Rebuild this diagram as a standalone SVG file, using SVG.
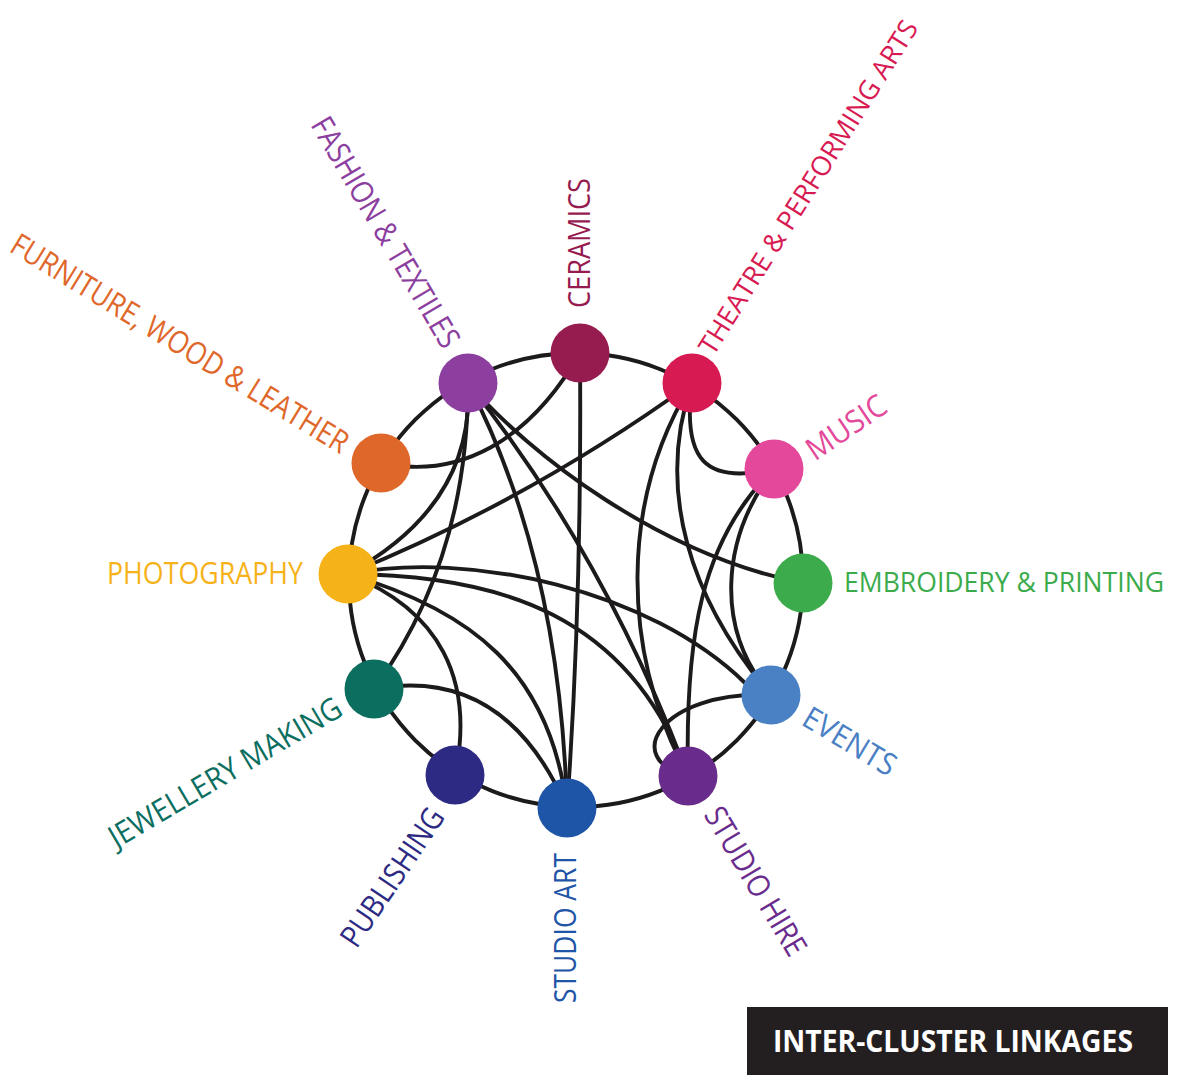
<svg xmlns="http://www.w3.org/2000/svg" width="1180" height="1075" viewBox="0 0 1180 1075">
<style>
.e{fill:none;stroke:#1c1a1a;stroke-width:3.9}
.lb{font-family:"Open Sans","Noto Sans","Liberation Sans",sans-serif;font-size:31px;font-weight:500}
.sm{font-size:27px}
.n{stroke:none}
</style>
<rect width="1180" height="1075" fill="#ffffff"/>
<g id="connectors">
<circle class="e" cx="576" cy="580" r="227"/>
<path class="e" d="M580,353 C530,440 460,480 381,463"/>
<path class="e" d="M580,353 Q582,600 567,808"/>
<path class="e" d="M468,383 Q468,560 374,689"/>
<path class="e" d="M468,383 Q475,505 348,574"/>
<path class="e" d="M468,383 Q560,560 567,808"/>
<path class="e" d="M468,383 Q605,555 688,776"/>
<path class="e" d="M468,383 C530,455 660,555 803,583"/>
<path class="e" d="M348,574 Q530,500 692,383"/>
<path class="e" d="M348,574 C470,550 650,590 745,683"/>
<path class="e" d="M348,574 C500,575 630,615 688,776"/>
<path class="e" d="M348,574 C470,610 550,670 567,808"/>
<path class="e" d="M348,574 C440,610 475,680 455,775"/>
<path class="e" d="M374,689 Q505,665 567,808"/>
<path class="e" d="M692,383 C682,460 705,485 774,469"/>
<path class="e" d="M692,383 C620,500 620,650 688,776"/>
<path class="e" d="M692,383 C655,490 690,600 771,695"/>
<path class="e" d="M774,469 C700,540 685,640 688,776"/>
<path class="e" d="M774,469 C720,540 715,630 771,695"/>
<path class="e" d="M771,695 C660,690 620,760 688,776"/>
</g>
<g id="node-fashion"><circle class="n" cx="468" cy="383" r="29.5" fill="#8c3f9f"/><text class="lb" fill="#8c3f9f" transform="translate(386,232) rotate(59.5)" text-anchor="middle" dy="0.36em" textLength="262" lengthAdjust="spacingAndGlyphs">FASHION &amp; TEXTILES</text></g>
<g id="node-ceramics"><circle class="n" cx="580" cy="353" r="29.5" fill="#961b4f"/><text class="lb" fill="#961b4f" transform="translate(579,243) rotate(-90)" text-anchor="middle" dy="0.36em" textLength="130" lengthAdjust="spacingAndGlyphs">CERAMICS</text></g>
<g id="node-theatre"><circle class="n" cx="692" cy="383" r="29.5" fill="#d81a52"/><text class="lb sm" fill="#d81a52" transform="translate(808,187) rotate(-58)" text-anchor="middle" dy="0.36em" textLength="388" lengthAdjust="spacingAndGlyphs">THEATRE &amp; PERFORMING ARTS</text></g>
<g id="node-music"><circle class="n" cx="774" cy="469" r="29.5" fill="#e3489a"/><text class="lb" fill="#e3489a" transform="translate(846,427) rotate(-34)" text-anchor="middle" dy="0.36em" textLength="90" lengthAdjust="spacingAndGlyphs">MUSIC</text></g>
<g id="node-embroidery"><circle class="n" cx="803" cy="583" r="29.5" fill="#3cab4b"/><text class="lb sm" fill="#3cab4b" x="1004" y="582" text-anchor="middle" dy="0.36em" textLength="320" lengthAdjust="spacingAndGlyphs">EMBROIDERY &amp; PRINTING</text></g>
<g id="node-events"><circle class="n" cx="771" cy="695" r="29.5" fill="#4a80c4"/><text class="lb" fill="#4a80c4" transform="translate(850,741) rotate(31)" text-anchor="middle" dy="0.36em" textLength="103" lengthAdjust="spacingAndGlyphs">EVENTS</text></g>
<g id="node-studio-hire"><circle class="n" cx="688" cy="776" r="29.5" fill="#6a2c8c"/><text class="lb" fill="#6a2c8c" transform="translate(756,881) rotate(59)" text-anchor="middle" dy="0.36em" textLength="168" lengthAdjust="spacingAndGlyphs">STUDIO HIRE</text></g>
<g id="node-studio-art"><circle class="n" cx="567" cy="808" r="29.5" fill="#1f55a7"/><text class="lb" fill="#1f55a7" transform="translate(565,928) rotate(-90)" text-anchor="middle" dy="0.36em" textLength="150" lengthAdjust="spacingAndGlyphs">STUDIO ART</text></g>
<g id="node-publishing"><circle class="n" cx="455" cy="775" r="29.5" fill="#2d2a83"/><text class="lb" fill="#2d2a83" transform="translate(392,877) rotate(-56)" text-anchor="middle" dy="0.36em" textLength="160" lengthAdjust="spacingAndGlyphs">PUBLISHING</text></g>
<g id="node-jewellery"><circle class="n" cx="374" cy="689" r="29.5" fill="#0b6e5f"/><text class="lb" fill="#0b6e5f" transform="translate(225,772) rotate(-30.5)" text-anchor="middle" dy="0.36em" textLength="265" lengthAdjust="spacingAndGlyphs">JEWELLERY MAKING</text></g>
<g id="node-photography"><circle class="n" cx="348" cy="574" r="29.5" fill="#f6b219"/><text class="lb" fill="#f6b219" x="205" y="572.5" text-anchor="middle" dy="0.36em" textLength="196" lengthAdjust="spacingAndGlyphs">PHOTOGRAPHY</text></g>
<g id="node-furniture"><circle class="n" cx="381" cy="463" r="29.5" fill="#e0672a"/><text class="lb" fill="#e0672a" transform="translate(180,343) rotate(31.5)" text-anchor="middle" dy="0.36em" textLength="390" lengthAdjust="spacingAndGlyphs">FURNITURE, WOOD &amp; LEATHER</text></g>
<g id="title"><rect x="747" y="1007" width="421" height="68" fill="#231f20"/><text x="953" y="1041" text-anchor="middle" dy="0.36em" font-family="Open Sans, Noto Sans, Liberation Sans, sans-serif" font-size="30" font-weight="700" fill="#ffffff" textLength="360" lengthAdjust="spacingAndGlyphs">INTER-CLUSTER LINKAGES</text></g>
</svg>
